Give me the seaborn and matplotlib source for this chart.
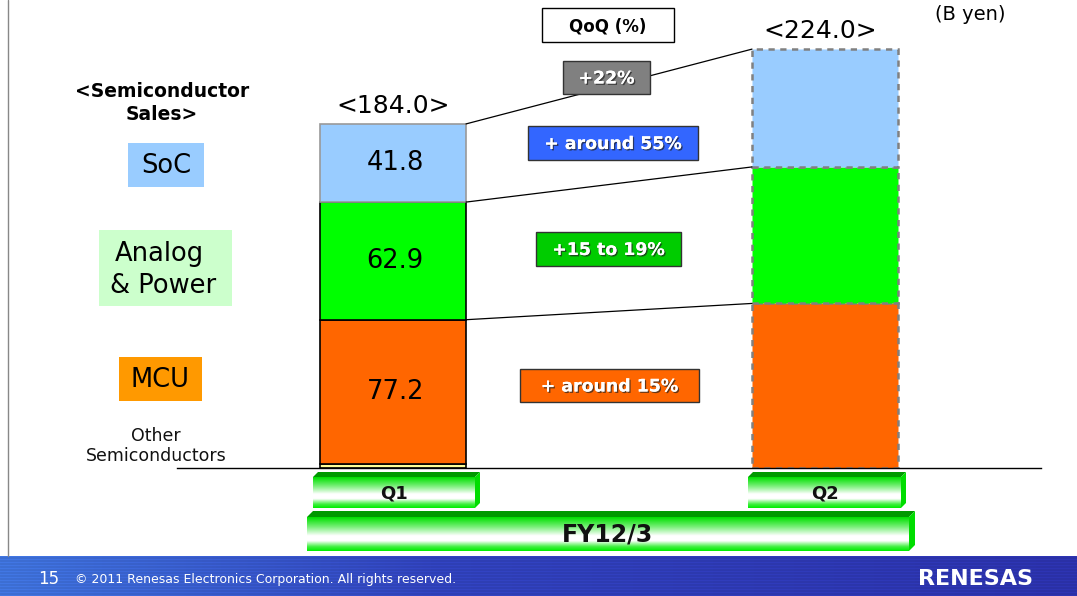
import numpy as np
import pandas as pd
import matplotlib
matplotlib.use('Agg')
import matplotlib.pyplot as plt
import matplotlib.patheffects as pe
from matplotlib.patches import Rectangle, Polygon
from matplotlib.colors import LinearSegmentedColormap, to_rgb
import seaborn as sns

# data (B yen)
quarters = ['Q1', 'Q2']
other = [2.1, 0.0]
mcu = [77.2, 88.0]
analog = [62.9, 73.0]
soc = [41.8, 63.0]
totals = [184.0, 224.0]
period = 'FY12/3'
qoq_labels = ['+22%', '+ around 55%', '+15 to 19%', '+ around 15%']

seg_names = ['Other', 'MCU', 'Analog', 'SoC']
seg_colors = ['#FFFF99', '#FF6600', '#00FF00', '#99CCFF']

sns.set_style('white')
plt.rcParams['font.family'] = ['DejaVu Sans']
plt.rcParams['text.color'] = 'black'

df = pd.DataFrame({'quarter': quarters, 'Other': other, 'MCU': mcu,
                   'Analog': analog, 'SoC': soc})
cum = df[seg_names].cumsum(axis=1)
bottoms = cum.shift(1, axis=1).fillna(0)

fig = plt.figure(figsize=(10.77, 5.96), dpi=100)
fig.patch.set_facecolor('white')

px_per_unit = 1.87
ax = fig.add_axes([177 / 1077, 128 / 596, 864 / 1077, 468 / 596])
bw = 0.338
for name, col in zip(seg_names, seg_colors):
    n_before = len(ax.patches)
    sns.barplot(x=df['quarter'], y=df[name], bottom=bottoms[name], color=col,
                saturation=1, width=bw, errorbar=None, ax=ax)
    new = ax.patches[n_before:]
    # Q1 actual: solid outline, Q2 forecast: dashed gray outline
    new[0].set_edgecolor('#999999' if name == 'SoC' else 'black')
    new[0].set_linewidth(1.2)
    new[1].set_edgecolor('#808080')
    new[1].set_linewidth(1.8)
    new[1].set_linestyle((0, (2.5, 2.2)))

ax.set_xlim(-0.5, 1.5)
ax.set_ylim(0, 468 / px_per_unit)
ax.set_xlabel('')
ax.set_ylabel('')
ax.set_xticks([])
ax.set_yticks([])
ax.patch.set_alpha(0)
for s in ['top', 'left', 'right']:
    ax.spines[s].set_visible(False)
ax.spines['bottom'].set_color('black')
ax.spines['bottom'].set_linewidth(1)

# connecting lines between the two bars
for name in ['MCU', 'Analog', 'SoC']:
    ax.plot([0 + bw / 2, 1 - bw / 2], [cum.loc[0, name], cum.loc[1, name]],
            color='black', lw=0.9, zorder=1)

# Q1 segment values
for name in ['MCU', 'Analog', 'SoC']:
    ax.text(0.005, bottoms.loc[0, name] + df.loc[0, name] / 2, f'{df.loc[0, name]:.1f}',
            ha='center', va='center', fontsize=18.5, color='black')

# totals
for i, t in enumerate(totals):
    ax.annotate(f'<{t:.1f}>', (i - 0.01 * i, cum.loc[i, 'SoC']), xytext=(0, 13),
                textcoords='offset points', ha='center', va='center', fontsize=18,
                color='black')

# overlay in pixel coordinates for the slide decoration
ov = fig.add_axes([0, 0, 1, 1], zorder=3)
ov.set_xlim(0, 1077)
ov.set_ylim(596, 0)
ov.axis('off')
ov.patch.set_alpha(0)

ov.plot([8, 8], [0, 556], color='#888888', lw=1)

ov.text(162, 103, '<Semiconductor\nSales>', ha='center', va='center',
        fontsize=13.5, fontweight='bold', linespacing=1.3)
ov.add_patch(Rectangle((128, 143), 76, 44, color='#99CCFF', lw=0))
ov.text(166, 166, 'SoC', ha='center', va='center', fontsize=18.5)
ov.add_patch(Rectangle((99, 230), 133, 76, color='#CCFFCC', lw=0))
ov.text(115, 254, 'Analog', ha='left', va='center', fontsize=18.5)
ov.text(110, 286, '& Power', ha='left', va='center', fontsize=18.5)
ov.add_patch(Rectangle((119, 357), 83, 44, color='#FF9900', lw=0))
ov.text(160, 380, 'MCU', ha='center', va='center', fontsize=18.5)
ov.text(156, 446, 'Other\nSemiconductors', ha='center', va='center',
        fontsize=12.5, linespacing=1.2, color='#111111')

ov.text(970, 15, '(B yen)', ha='center', va='center', fontsize=14)

# QoQ boxes
ov.add_patch(Rectangle((542, 8), 132, 34, facecolor='white', edgecolor='black', lw=1))
ov.text(608, 26, 'QoQ (%)', ha='center', va='center', fontsize=12, fontweight='bold')
qoq_boxes = [(563, 61, 87, 33, '#808080'), (528, 126, 170, 34, '#3366FF'),
             (536, 232, 145, 34, '#00CC00'), (520, 369, 179, 33, '#FF6600')]
shadow = [pe.withSimplePatchShadow(offset=(1, -1), shadow_rgbFace='#222222', alpha=0.7),
          pe.Normal()]
for (x, y, w, h, c), lab in zip(qoq_boxes, qoq_labels):
    ov.add_patch(Rectangle((x, y), w, h, facecolor=c, edgecolor='#333333', lw=1))
    ov.text(x + w / 2, y + h / 2 + 1, lab, ha='center', va='center', fontsize=12.5,
            fontweight='bold', color='white', path_effects=shadow)

# green gradient tabs under the bars
tab_cmap = LinearSegmentedColormap.from_list(
    'tab', [(0, '#00e000'), (0.3, '#80f080'), (0.55, '#ffffff'), (0.7, '#ffffff'),
            (0.88, '#40f040'), (1, '#00ee00')])
grad = np.linspace(0, 1, 64).reshape(-1, 1)


def draw_tab(x0, x1, y0, y1, d, label, size):
    ov.imshow(grad, cmap=tab_cmap, aspect='auto', origin='upper',
              extent=(x0, x1, y1, y0), zorder=2)
    ov.add_patch(Polygon([(x0, y0), (x0 + d, y0 - d), (x1 + d, y0 - d), (x1, y0)],
                         closed=True, color='#009900', lw=0, zorder=2))
    ov.add_patch(Polygon([(x1, y0), (x1 + d, y0 - d), (x1 + d, y1 - d), (x1, y1)],
                         closed=True, color='#00dd00', lw=0, zorder=2))
    ov.text((x0 + x1) / 2, (y0 + y1) / 2 + 1, label, ha='center', va='center',
            fontsize=size, fontweight='bold', color='#111111', zorder=3)


draw_tab(313, 475, 477, 508, 5, quarters[0], 13)
draw_tab(748, 901, 477, 508, 5, quarters[1], 13)
draw_tab(307, 909, 517, 551, 6, period, 17)

# footer band
xs = np.linspace(0, 1, 400)
c_left, c_mid, c_right = [np.array(to_rgb(c)) for c in ['#3d6fd4', '#2f40b6', '#2a30a6']]
row = np.where(xs[:, None] < 0.4,
               c_left + (c_mid - c_left) * (xs[:, None] / 0.4),
               c_mid + (c_right - c_mid) * ((xs[:, None] - 0.4) / 0.6))
band = np.repeat(row[None, :, :], 40, axis=0)
band[::3] = np.clip(band[::3] * 1.08, 0, 1)
ov.imshow(band, aspect='auto', origin='upper', extent=(0, 1077, 596, 556), zorder=1)
ov.set_xlim(0, 1077)
ov.set_ylim(596, 0)
ov.text(38, 579, '15', ha='left', va='center', fontsize=12, color='white')
ov.text(75, 580, '\u00a9 2011 Renesas Electronics Corporation. All rights reserved.',
        ha='left', va='center', fontsize=9, color='white')
ov.text(976, 579, 'RENESAS', ha='center', va='center', fontsize=16,
        fontweight='bold', color='white')

fig.savefig('out.png', dpi=100, facecolor='white')
